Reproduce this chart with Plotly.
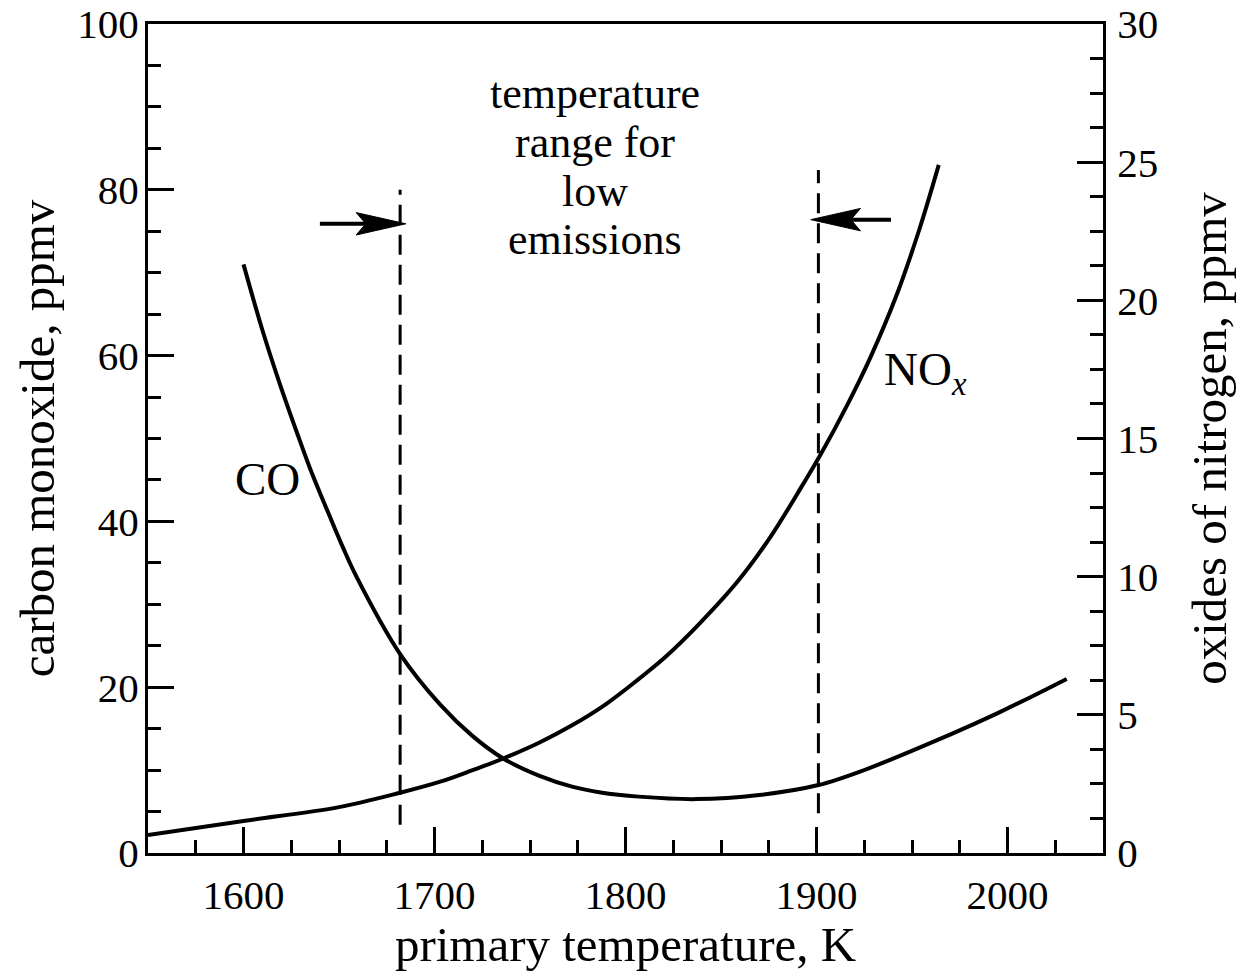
import plotly.graph_objects as go

# CO curve, read against the left axis (ppmv)
temp_co = [1600, 1610, 1619, 1628, 1635, 1645, 1652, 1659, 1682, 1703, 1720, 1736,
           1755, 1772, 1787, 1807, 1837, 1870, 1901, 1926, 1961, 1996, 2031]
co_ppmv = [71.0, 63.0, 56.6, 50.7, 46.3, 40.7, 36.9, 33.4, 24.0, 17.9, 14.1, 11.4,
           9.3, 8.0, 7.3, 6.8, 6.5, 7.0, 8.2, 10.1, 13.4, 17.0, 21.0]

# NOx curve, read against the right axis (ppmv)
temp_nox = [1550, 1600, 1650, 1682, 1703, 1720, 1736, 1755, 1772, 1790, 1807, 1821,
            1839, 1859, 1876, 1893, 1902, 1916, 1928, 1942, 1954, 1964]
nox_ppmv = [0.65, 1.16, 1.66, 2.18, 2.58, 3.0, 3.42, 4.0, 4.62, 5.40, 6.30, 7.10,
            8.32, 9.85, 11.45, 13.35, 14.4, 16.2, 17.9, 20.2, 22.6, 24.9]

# low-emission window (K) and the extent of its dashed markers (left-axis units)
window_low, window_high = 1682, 1901
low_line_span = (3.4, 80.0)
high_line_span = (4.8, 82.4)

# arrows pointing at the window edges: tail x, tip x, y (left-axis units)
arrow_left = (1640, 1685, 75.9)
arrow_right = (1939, 1897, 76.4)

x_range = [1550, 2050]
co_range = [0, 100]
nox_range = [0, 30]

label_lines = ["temperature", "range for", "low", "emissions"]
label_line_y = [91.65, 85.75, 79.85, 73.95]
label_x = 1784

FONT = "Liberation Serif"
TICK_FONT = dict(family=FONT, size=41, color="black")
TITLE_FONT = dict(family=FONT, size=49, color="black")
TEXT_FONT = dict(family=FONT, size=47, color="black")
WINDOW_FONT = dict(family=FONT, size=44, color="black")

fig = go.Figure()
fig.add_trace(go.Scatter(
    x=temp_co, y=co_ppmv, mode="lines", yaxis="y",
    line=dict(color="black", width=4, shape="spline", smoothing=1.0),
    hoverinfo="x+y", showlegend=False,
))
fig.add_trace(go.Scatter(
    x=temp_nox, y=nox_ppmv, mode="lines", yaxis="y2",
    line=dict(color="black", width=4, shape="spline", smoothing=1.0),
    hoverinfo="x+y", showlegend=False,
))

shapes = []
for xv, (y0, y1) in ((window_low, low_line_span), (window_high, high_line_span)):
    shapes.append(dict(type="line", xref="x", yref="y", x0=xv, x1=xv, y0=y0, y1=y1,
                       line=dict(color="black", width=3, dash="20px,10px")))


def arrow(tail, tip, y, head_len=26.0, half_w=1.35, notch=5.0):
    d = 1 if tip > tail else -1
    xb = tip - d * head_len
    xn = tip - d * (head_len - notch)
    shaft = dict(type="line", xref="x", yref="y", x0=tail, x1=xn, y0=y, y1=y,
                 line=dict(color="black", width=4))
    head = dict(type="path", xref="x", yref="y",
                path=f"M{tip},{y} L{xb},{y + half_w} L{xn},{y} L{xb},{y - half_w} Z",
                fillcolor="black", line=dict(color="black", width=1))
    return [shaft, head]


shapes += arrow(*arrow_left)
shapes += arrow(*arrow_right)

annotations = []
for txt, yv in zip(label_lines, label_line_y):
    annotations.append(dict(x=label_x, y=yv, xref="x", yref="y", text=txt,
                            showarrow=False, font=WINDOW_FONT,
                            xanchor="center", yanchor="middle"))
annotations.append(dict(x=1612.6, y=45.1, xref="x", yref="y", text="CO",
                        showarrow=False, font=TEXT_FONT,
                        xanchor="center", yanchor="middle"))
annotations.append(dict(x=1951, y=58.0, xref="x", yref="y",
                        text="NO<sub><i>x</i></sub>",
                        showarrow=False, font=TEXT_FONT,
                        xanchor="left", yanchor="middle", xshift=-32))

axis_common = dict(
    showline=True, linecolor="black", linewidth=3,
    ticks="inside", tickcolor="black", tickwidth=2.5, ticklen=26,
    showgrid=False, zeroline=False, tickfont=TICK_FONT, automargin=False,
)

fig.update_layout(
    width=1240, height=972,
    margin=dict(l=148, r=137, t=24, b=119),
    paper_bgcolor="white", plot_bgcolor="white",
    font=dict(family=FONT, color="black"),
    shapes=shapes, annotations=annotations,
    xaxis=dict(
        range=x_range, tick0=1600, dtick=100, mirror=True,
        minor=dict(dtick=25, tick0=1550, ticks="inside", ticklen=13,
                   tickwidth=2.5, tickcolor="black"),
        title=dict(text="primary temperature, K", font=TITLE_FONT, standoff=6),
        ticklabelstandoff=4,
        **axis_common,
    ),
    yaxis=dict(
        range=co_range, dtick=20,
        minor=dict(dtick=5, ticks="inside", ticklen=13,
                   tickwidth=2.5, tickcolor="black"),
        title=dict(text="carbon monoxide, ppmv", font=TITLE_FONT, standoff=8),
        ticklabelstandoff=-2,
        **axis_common,
    ),
    yaxis2=dict(
        range=nox_range, dtick=5, overlaying="y", side="right",
        minor=dict(dtick=1.25, ticks="inside", ticklen=13,
                   tickwidth=2.5, tickcolor="black"),
        title=dict(text="oxides of nitrogen, ppmv", font=TITLE_FONT, standoff=35),
        ticklabelstandoff=3,
        **axis_common,
    ),
)

fig.write_html("out.html")
